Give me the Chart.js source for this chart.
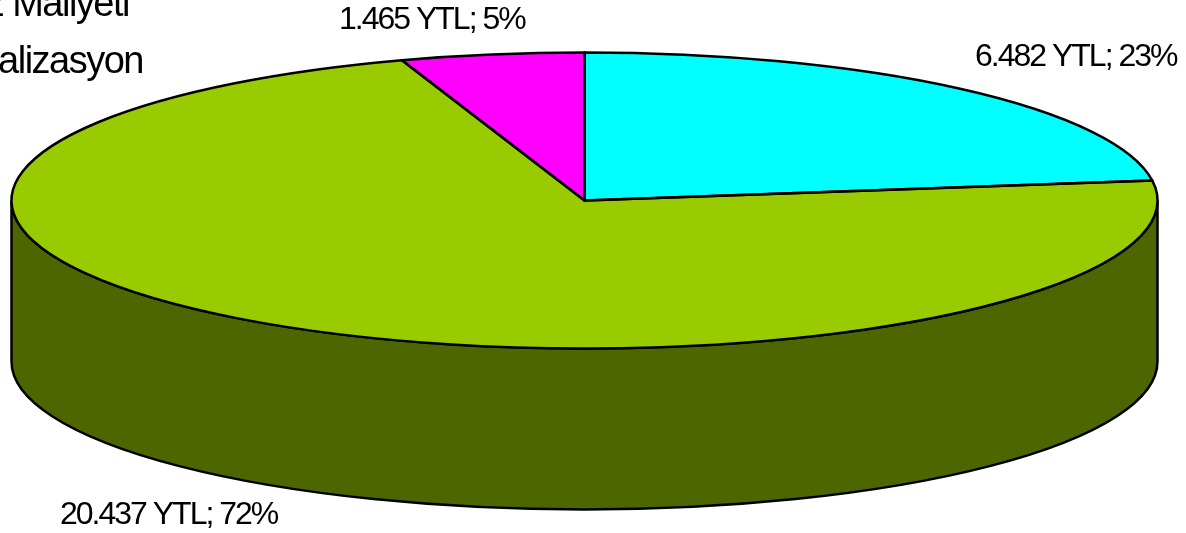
<!DOCTYPE html>
<html>
<head>
<meta charset="utf-8">
<title>Maliyet</title>
<style>
html, body { margin: 0; padding: 0; background: #fff; overflow: hidden; }
canvas { display: block; }
</style>
<script src="https://cdn.jsdelivr.net/npm/chart.js@4"></script>
</head>
<body>
<canvas id="chart" width="1186" height="533"></canvas>
<script>
const categories = ['İşletme', 'Realizasyon', 'Faiz Maliyeti'];
const values = [6482, 20437, 1465];
const colors = ['#00FFFF', '#99CC00', '#FF00FF'];
const sideColors = ['#008080', '#4D6600', '#800080'];
const legendLines = ['Faiz Maliyeti', 'Realizasyon'];

// the flat pie gets squashed to this ellipse
const rx = 573, ry = 148, depth = 161;

function labelText(i) {
    const total = values.reduce((a, b) => a + b, 0);
    const num = values[i].toLocaleString('de-DE');
    return `${num} YTL; ${Math.round(values[i] / total * 100)}%`;
}

const pie3d = {
    id: 'pie3d',
    beforeDatasetDraw(chart) {
        const ctx = chart.ctx;
        const arcs = chart.getDatasetMeta(0).data;
        const cx = arcs[0].x, cy = arcs[0].y;

        // side wall, only the front half of the ellipse shows
        ctx.save();
        ctx.lineWidth = 2.5;
        ctx.strokeStyle = '#000';
        arcs.forEach((arc, i) => {
            const from = Math.max(arc.startAngle, 0);
            const to = Math.min(arc.endAngle, Math.PI);
            if (to <= from) return;
            ctx.beginPath();
            ctx.ellipse(cx, cy, rx, ry, 0, from, to);
            ctx.ellipse(cx, cy + depth, rx, ry, 0, to, from, true);
            ctx.closePath();
            ctx.fillStyle = sideColors[i];
            ctx.fill();
            ctx.stroke();
        });
        ctx.restore();

        ctx.save();
        ctx.translate(cx, cy);
        ctx.scale(rx / arcs[0].outerRadius, ry / arcs[0].outerRadius);
        ctx.translate(-cx, -cy);
    },
    afterDatasetDraw(chart) {
        const ctx = chart.ctx;
        ctx.restore();

        const arcs = chart.getDatasetMeta(0).data;
        ctx.save();
        ctx.lineWidth = 2.5;
        ctx.strokeStyle = '#000';
        ctx.lineJoin = 'round';
        arcs.forEach(arc => {
            ctx.beginPath();
            ctx.moveTo(arc.x, arc.y);
            ctx.ellipse(arc.x, arc.y, rx, ry, 0, arc.startAngle, arc.endAngle);
            ctx.closePath();
            ctx.stroke();
        });
        ctx.restore();
    },
    afterDraw(chart) {
        const ctx = chart.ctx;
        ctx.save();
        ctx.fillStyle = '#000';
        ctx.textBaseline = 'alphabetic';
        ctx.textAlign = 'left';
        ctx.font = '32px "Liberation Sans"';
        ctx.letterSpacing = '-2px';
        ctx.fillText(labelText(2), 339, 29);
        ctx.fillText(labelText(0), 975, 66);
        ctx.fillText(labelText(1), 60, 524);
        ctx.textAlign = 'right';
        ctx.font = '38px "Liberation Sans"';
        ctx.letterSpacing = '-1.5px';
        ctx.fillText(legendLines[0], 129, 16);
        ctx.fillText(legendLines[1], 143, 73);
        ctx.restore();
    }
};

new Chart(document.getElementById('chart').getContext('2d'), {
    type: 'pie',
    data: {
        labels: categories,
        datasets: [{ data: values, backgroundColor: colors, borderWidth: 0 }]
    },
    options: {
        responsive: false,
        animation: false,
        layout: { padding: { left: 0, right: 17, top: 0, bottom: 132 } },
        plugins: { legend: { display: false }, tooltip: { enabled: false } }
    },
    plugins: [pie3d]
});
</script>
</body>
</html>
